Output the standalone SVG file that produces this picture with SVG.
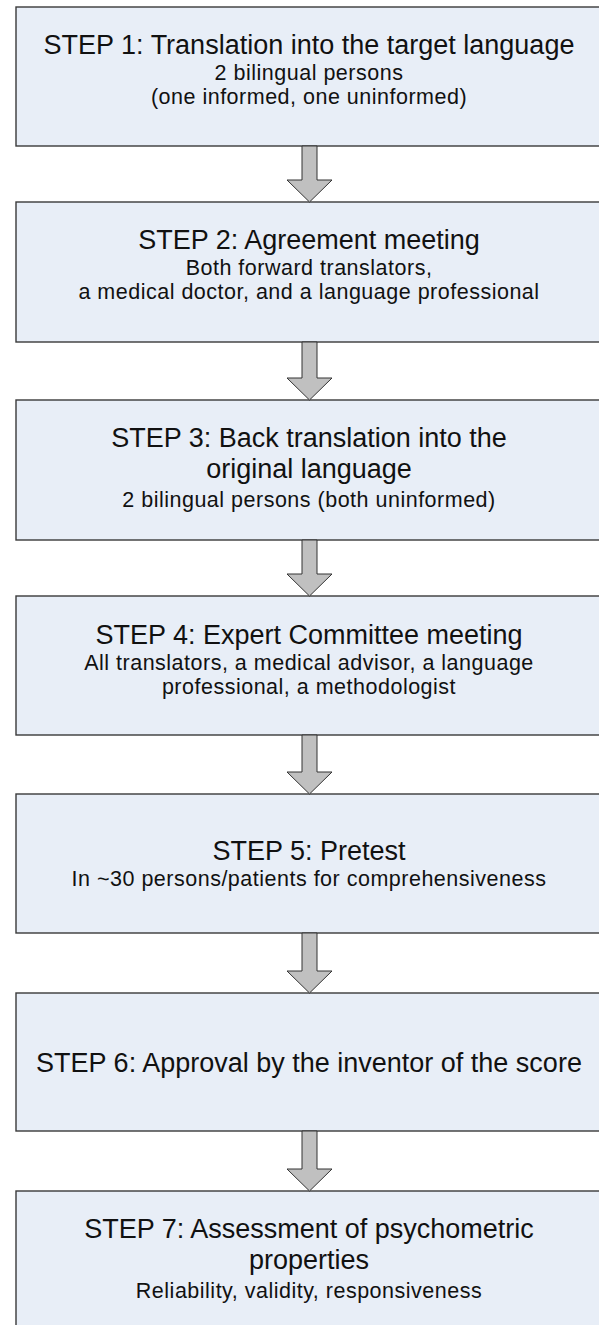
<svg xmlns="http://www.w3.org/2000/svg" width="599" height="1325" viewBox="0 0 599 1325">
<defs>
<style>
.box{fill:#e8eef7;stroke:#3a3a3a;stroke-width:1.4}
.t{font-family:"Liberation Sans",Arial,sans-serif;font-size:27px;fill:#111;text-anchor:middle}
.s{font-family:"Liberation Sans",Arial,sans-serif;font-size:21.5px;letter-spacing:0.5px;fill:#111;text-anchor:middle}
.arr{fill:#c0c0c0;stroke:#333;stroke-width:1;stroke-linejoin:miter}
</style>
</defs>
<rect width="599" height="1325" fill="#fff"/>
<g id="step1">
<rect class="box" x="16" y="7" width="594" height="139"/>
<text class="t" x="309" y="54">STEP 1: Translation into the target language</text>
<text class="s" x="309" y="80">2 bilingual persons</text>
<text class="s" x="309" y="104">(one informed, one uninformed)</text>
</g>
<g id="step2">
<rect class="box" x="16" y="202" width="594" height="140"/>
<text class="t" x="309" y="249">STEP 2: Agreement meeting</text>
<text class="s" x="309" y="275">Both forward translators,</text>
<text class="s" x="309" y="299">a medical doctor, and a language professional</text>
</g>
<g id="step3">
<rect class="box" x="16" y="400" width="594" height="140"/>
<text class="t" x="309" y="447">STEP 3: Back translation into the</text>
<text class="t" x="309" y="478">original language</text>
<text class="s" x="309" y="507">2 bilingual persons (both uninformed)</text>
</g>
<g id="step4">
<rect class="box" x="16" y="596" width="594" height="139"/>
<text class="t" x="309" y="644">STEP 4: Expert Committee meeting</text>
<text class="s" x="309" y="670">All translators, a medical advisor, a language</text>
<text class="s" x="309" y="694">professional, a methodologist</text>
</g>
<g id="step5">
<rect class="box" x="16" y="794" width="594" height="139"/>
<text class="t" x="309" y="860">STEP 5: Pretest</text>
<text class="s" x="309" y="886">In ~30 persons/patients for comprehensiveness</text>
</g>
<g id="step6">
<rect class="box" x="16" y="993" width="594" height="138"/>
<text class="t" x="309" y="1072">STEP 6: Approval by the inventor of the score</text>
</g>
<g id="step7">
<rect class="box" x="16" y="1191" width="594" height="150"/>
<text class="t" x="309" y="1238">STEP 7: Assessment of psychometric</text>
<text class="t" x="309" y="1269">properties</text>
<text class="s" x="309" y="1298">Reliability, validity, responsiveness</text>
</g>
<g id="connectors">
<path class="arr" d="M302,146 H317 V180 H332 L309.5,202 L287,180 H302 Z"/>
<path class="arr" d="M302,342 H317 V378 H332 L309.5,400 L287,378 H302 Z"/>
<path class="arr" d="M302,540 H317 V574 H332 L309.5,596 L287,574 H302 Z"/>
<path class="arr" d="M302,735 H317 V772 H332 L309.5,794 L287,772 H302 Z"/>
<path class="arr" d="M302,933 H317 V971 H332 L309.5,993 L287,971 H302 Z"/>
<path class="arr" d="M302,1131 H317 V1169 H332 L309.5,1191 L287,1169 H302 Z"/>
</g>
</svg>
